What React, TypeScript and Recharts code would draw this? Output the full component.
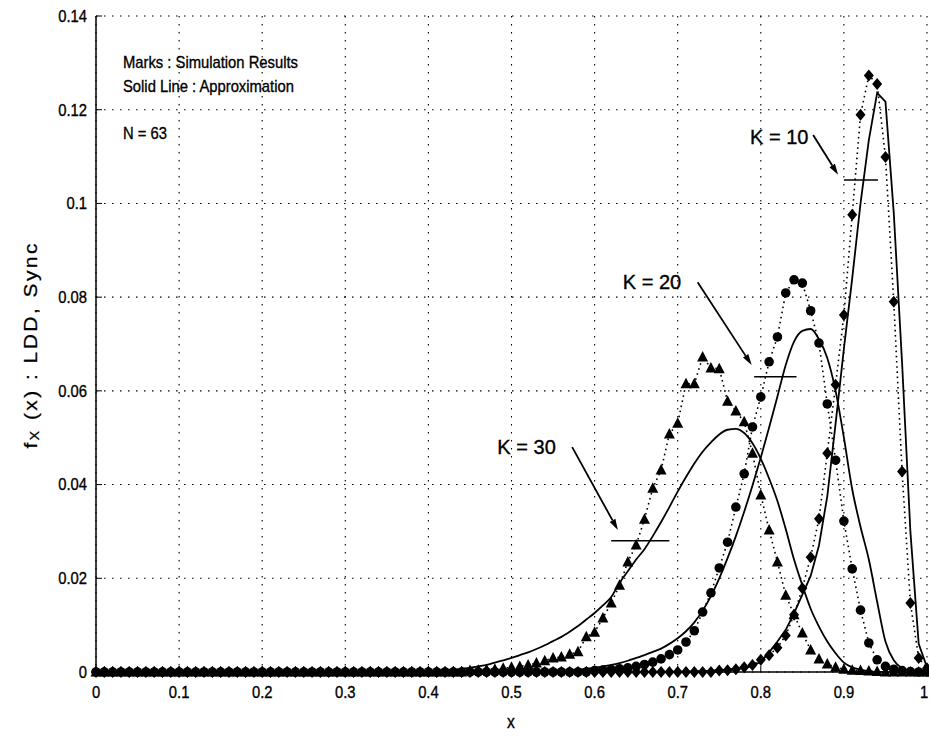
import React from "react";
import {
  ComposedChart,
  Line,
  XAxis,
  YAxis,
  CartesianGrid,
  ReferenceLine,
  ReferenceDot,
} from "recharts";

// x grid of the histogram bins (0.00 .. 1.00, step 0.01)
const X_TICKS = [0, 0.1, 0.2, 0.3, 0.4, 0.5, 0.6, 0.7, 0.8, 0.9, 1];
const Y_TICKS = [0, 0.02, 0.04, 0.06, 0.08, 0.1, 0.12, 0.14];

// simulation results (marks), one value per bin
const SIM_K30 = [
  0, 0, 0, 0, 0, 0, 0, 0, 0, 0,
  0, 0, 0, 0, 0, 0, 0, 0, 0, 0,
  0, 0, 0, 0, 0, 0, 0, 0, 0, 0,
  0, 0, 0, 0, 0, 0, 0, 0, 0, 0,
  0, 0, 0, 0, 0, 0.0003, 0.0004, 0.0005, 0.0006, 0.0008,
  0.001, 0.0012, 0.0015, 0.0019, 0.0024, 0.003, 0.0032, 0.0038, 0.0043, 0.0075,
  0.0085, 0.0115, 0.0147, 0.0185, 0.0235, 0.0271, 0.0326, 0.0392, 0.0431, 0.0508,
  0.0531, 0.0615, 0.0615, 0.0672, 0.0649, 0.0647, 0.0578, 0.0557, 0.0534, 0.0467,
  0.0378, 0.0303, 0.0235, 0.0164, 0.0122, 0.0083, 0.0047, 0.0028, 0.0017, 0.001,
  0.0006, 0.0004, 0.0003, 0.0002, 0.0001, 0, 0, 0, 0, 0,
  0,
];

const SIM_K20 = [
  0, 0, 0, 0, 0, 0, 0, 0, 0, 0,
  0, 0, 0, 0, 0, 0, 0, 0, 0, 0,
  0, 0, 0, 0, 0, 0, 0, 0, 0, 0,
  0, 0, 0, 0, 0, 0, 0, 0, 0, 0,
  0, 0, 0, 0, 0, 0, 0, 0, 0, 0,
  0, 0, 0, 0, 0, 0, 0, 0, 0, 0,
  0.0003, 0.0004, 0.0005, 0.0007, 0.0009, 0.0012, 0.0016, 0.0021, 0.0028, 0.0037,
  0.0047, 0.0064, 0.0088, 0.0128, 0.0169, 0.0222, 0.0277, 0.0352, 0.0423, 0.0523,
  0.0587, 0.0662, 0.0715, 0.0809, 0.0837, 0.083, 0.0771, 0.0702, 0.0572, 0.0452,
  0.0322, 0.022, 0.0132, 0.0062, 0.0026, 0.0012, 0.0006, 0.0003, 0.0001, 0,
  0,
];

const SIM_K10 = [
  0, 0, 0, 0, 0, 0, 0, 0, 0, 0,
  0, 0, 0, 0, 0, 0, 0, 0, 0, 0,
  0, 0, 0, 0, 0, 0, 0, 0, 0, 0,
  0, 0, 0, 0, 0, 0, 0, 0, 0, 0,
  0, 0, 0, 0, 0, 0, 0, 0, 0, 0,
  0, 0, 0, 0, 0, 0, 0, 0, 0, 0,
  0, 0, 0, 0, 0, 0, 0, 0, 0, 0,
  0, 0, 0, 0, 0, 0.0003, 0.0004, 0.0006, 0.001, 0.0015,
  0.0026, 0.0036, 0.0052, 0.0078, 0.0122, 0.0179, 0.0245, 0.0327, 0.0467, 0.0613,
  0.0762, 0.0976, 0.1189, 0.1273, 0.1255, 0.1099, 0.079, 0.0428, 0.0147, 0.003,
  0.0008,
];

// approximations (solid lines), same grid
const APPROX_K30 = [
  0, 0, 0, 0, 0, 0, 0, 0, 0, 0,
  0, 0, 0, 0, 0, 0, 0, 0, 0, 0,
  0, 0, 0, 0, 0, 0, 0, 0, 0, 0,
  0, 0, 0, 0, 0, 0, 0, 0, 0.0001, 0.0001,
  0.0002, 0.0003, 0.0004, 0.0005, 0.0007, 0.0009, 0.0012, 0.0015, 0.002, 0.0025,
  0.003, 0.0036, 0.0042, 0.0049, 0.0057, 0.0066, 0.0075, 0.0086, 0.0098, 0.0112,
  0.0126, 0.0142, 0.016, 0.019, 0.0215, 0.024, 0.0262, 0.029, 0.032, 0.0352,
  0.0385, 0.0416, 0.0445, 0.047, 0.049, 0.0507, 0.0517, 0.0519, 0.051, 0.0488,
  0.0455, 0.0413, 0.0365, 0.0305, 0.024, 0.0185, 0.0135, 0.0097, 0.0065, 0.004,
  0.002, 0.001, 0.0005, 0.0002, 0, 0, 0, 0, 0, 0,
  0,
];

const APPROX_K20 = [
  0, 0, 0, 0, 0, 0, 0, 0, 0, 0,
  0, 0, 0, 0, 0, 0, 0, 0, 0, 0,
  0, 0, 0, 0, 0, 0, 0, 0, 0, 0,
  0, 0, 0, 0, 0, 0, 0, 0, 0, 0,
  0, 0, 0, 0, 0, 0, 0, 0, 0, 0,
  0, 0, 0, 0, 0, 0.0002, 0.0003, 0.0004, 0.0005, 0.0007,
  0.0009, 0.0012, 0.0015, 0.0019, 0.0024, 0.003, 0.0036, 0.0043, 0.005, 0.006,
  0.0072, 0.0087, 0.0106, 0.0131, 0.0162, 0.02, 0.0243, 0.029, 0.0342, 0.0398,
  0.0458, 0.0522, 0.0588, 0.0655, 0.0705, 0.0728, 0.0732, 0.071, 0.067, 0.06,
  0.05, 0.039, 0.031, 0.024, 0.015, 0.0065, 0.0025, 0.0008, 0.0002, 0,
  0,
];

const APPROX_K10 = [
  0, 0, 0, 0, 0, 0, 0, 0, 0, 0,
  0, 0, 0, 0, 0, 0, 0, 0, 0, 0,
  0, 0, 0, 0, 0, 0, 0, 0, 0, 0,
  0, 0, 0, 0, 0, 0, 0, 0, 0, 0,
  0, 0, 0, 0, 0, 0, 0, 0, 0, 0,
  0, 0, 0, 0, 0, 0, 0, 0, 0, 0,
  0, 0, 0, 0, 0, 0, 0, 0, 0, 0,
  0.0001, 0.0001, 0.0002, 0.0002, 0.0003, 0.0004, 0.0005, 0.0007, 0.0009, 0.0013,
  0.0022, 0.0042, 0.0065, 0.009, 0.0125, 0.0165, 0.0205, 0.027, 0.0375, 0.053,
  0.069, 0.084, 0.1, 0.1135, 0.1236, 0.1217, 0.098, 0.066, 0.03, 0.006,
  0.001,
];

const data = SIM_K30.map((v, i) => ({
  x: i / 100,
  k30: v,
  k20: SIM_K20[i],
  k10: SIM_K10[i],
  a30: APPROX_K30[i],
  a20: APPROX_K20[i],
  a10: APPROX_K10[i],
}));

// annotation: level marks, arrows and labels (data coordinates)
const LEVELS = [
  { x1: 0.62, x2: 0.69, y: 0.028 },
  { x1: 0.792, x2: 0.843, y: 0.063 },
  { x1: 0.9, x2: 0.941, y: 0.105 },
];
const ARROWS = [
  { x1: 0.573, y1: 0.048, x2: 0.628, y2: 0.0303 },
  { x1: 0.724, y1: 0.0832, x2: 0.789, y2: 0.0655 },
  { x1: 0.863, y1: 0.1146, x2: 0.893, y2: 0.1061 },
];
const LABELS = [
  { text: "K = 30", x: 0.483, y: 0.048, size: 20, sq: 1 },
  { text: "K = 20", x: 0.634, y: 0.0832, size: 20, sq: 1 },
  { text: "K = 10", x: 0.787, y: 0.1142, size: 20, sq: 1 },
  { text: "Marks : Simulation Results", x: 0.0325, y: 0.1302, size: 17, sq: 0.87 },
  { text: "Solid Line : Approximation", x: 0.0325, y: 0.1251, size: 17, sq: 0.87 },
  { text: "N = 63", x: 0.0325, y: 0.115, size: 17, sq: 0.87 },
];

const FONT = "'Liberation Sans', Arial, Helvetica, sans-serif";

// the print is narrower than it is tall, so texts are squeezed sideways
const Narrow = ({ x, y, size, sq = 0.87, anchor = "start", children }: any) => (
  <g transform={`translate(${x},${y}) scale(${sq},1)`}>
    <text
      x={0}
      y={0}
      textAnchor={anchor}
      dominantBaseline="central"
      fontSize={size}
      fontFamily={FONT}
      fill="#000"
      stroke="#000"
      strokeWidth={0.35}
    >
      {children}
    </text>
  </g>
);

const XTick = ({ x, y, payload }: any) => {
  const v = payload.value;
  const dx = v === 1 ? -3 : 0;
  return (
    <Narrow x={x + dx} y={y + 9} size={17} anchor="middle">
      {String(v)}
    </Narrow>
  );
};

const YTick = ({ x, y, payload }: any) => (
  <Narrow x={x} y={y} size={17} anchor="end">
    {String(payload.value)}
  </Narrow>
);

const Triangle = ({ cx, cy }: any) => (
  <path d={`M${cx},${cy - 6}L${cx + 5.5},${cy + 4.5}L${cx - 5.5},${cy + 4.5}Z`} fill="#000" />
);
const Circle = ({ cx, cy }: any) => <circle cx={cx} cy={cy} r={4.8} fill="#000" />;
const Diamond = ({ cx, cy }: any) => (
  <path d={`M${cx},${cy - 6}L${cx + 5},${cy}L${cx},${cy + 6}L${cx - 5},${cy}Z`} fill="#000" />
);

const Arrow = (p: any) => {
  const { x1, y1, x2, y2 } = p;
  const ang = Math.atan2(y2 - y1, x2 - x1);
  const len = 11;
  const w = 3.2;
  const bx = x2 - len * Math.cos(ang);
  const by = y2 - len * Math.sin(ang);
  const nx = -Math.sin(ang) * w;
  const ny = Math.cos(ang) * w;
  return (
    <g>
      <line x1={x1} y1={y1} x2={bx} y2={by} stroke="#000" strokeWidth={1.8} />
      <path d={`M${x2},${y2}L${bx + nx},${by + ny}L${bx - nx},${by - ny}Z`} fill="#000" />
    </g>
  );
};

const YTitle = () => (
  <g transform="translate(30,346) rotate(-90) scale(1,0.9)">
    <text
      x={0}
      y={0}
      textAnchor="middle"
      dominantBaseline="central"
      fontSize={21}
      fontFamily={FONT}
      fill="#000"
      stroke="#000"
      strokeWidth={0.3}
      textLength={205}
      lengthAdjust="spacing"
    >
      f<tspan fontSize={14} dy={5}>X</tspan>
      <tspan dy={-5}> (x) : LDD, Sync</tspan>
    </text>
  </g>
);

const XTitle = () => (
  <Narrow x={511} y={722} size={18} anchor="middle">
    x
  </Narrow>
);

export default function App() {
  return (
    <div style={{ position: "absolute", left: 0, top: 0, fontFamily: FONT }}>
      <ComposedChart width={929} height={736} data={data} margin={{ top: 16, right: 2, bottom: 34, left: 36 }}>
        <CartesianGrid stroke="#000" strokeWidth={1.1} strokeDasharray="1.5 6.5" />
        <XAxis
          dataKey="x"
          type="number"
          domain={[0, 1]}
          ticks={X_TICKS}
          interval={0}
          height={30}
          tickSize={-6}
          tickMargin={17}
          tick={<XTick />}
          axisLine={{ stroke: "#000", strokeWidth: 1.5 }}
          tickLine={{ stroke: "#000" }}
          label={<XTitle />}
        />
        <XAxis
          xAxisId="top"
          orientation="top"
          dataKey="x"
          type="number"
          domain={[0, 1]}
          ticks={X_TICKS}
          interval={0}
          height={0}
          tickSize={-6}
          tick={false}
          axisLine={{ stroke: "#000", strokeWidth: 1.5 }}
          tickLine={{ stroke: "#000" }}
        />
        <YAxis
          type="number"
          domain={[0, 0.14]}
          ticks={Y_TICKS}
          interval={0}
          width={60}
          tickSize={-6}
          tickMargin={15}
          tick={<YTick />}
          axisLine={{ stroke: "#000", strokeWidth: 1.5 }}
          tickLine={{ stroke: "#000" }}
          label={<YTitle />}
        />
        <YAxis
          yAxisId="right"
          orientation="right"
          type="number"
          domain={[0, 0.14]}
          ticks={Y_TICKS}
          interval={0}
          width={0}
          tickSize={-6}
          tick={false}
          axisLine={{ stroke: "#000", strokeWidth: 1.5 }}
          tickLine={{ stroke: "#000" }}
        />

        <Line
          dataKey="a30"
          type="monotone"
          stroke="#000"
          strokeWidth={1.8}
          dot={false}
          activeDot={false}
          isAnimationActive={false}
        />
        <Line
          dataKey="a20"
          type="monotone"
          stroke="#000"
          strokeWidth={1.8}
          dot={false}
          activeDot={false}
          isAnimationActive={false}
        />
        <Line
          dataKey="a10"
          type="linear"
          stroke="#000"
          strokeWidth={1.8}
          dot={false}
          activeDot={false}
          isAnimationActive={false}
        />

        <Line
          dataKey="k30"
          type="linear"
          stroke="#000"
          strokeWidth={1.6}
          strokeDasharray="1.6 3.6"
          dot={(p: any) => <Triangle key={`t-${p.index}`} cx={p.cx} cy={p.cy} />}
          activeDot={false}
          isAnimationActive={false}
        />
        <Line
          dataKey="k20"
          type="linear"
          stroke="#000"
          strokeWidth={1.6}
          strokeDasharray="1.6 3.6"
          dot={(p: any) => <Circle key={`c-${p.index}`} cx={p.cx} cy={p.cy} />}
          activeDot={false}
          isAnimationActive={false}
        />
        <Line
          dataKey="k10"
          type="linear"
          stroke="#000"
          strokeWidth={1.6}
          strokeDasharray="1.6 3.6"
          dot={(p: any) => <Diamond key={`d-${p.index}`} cx={p.cx} cy={p.cy} />}
          activeDot={false}
          isAnimationActive={false}
        />

        {LEVELS.map((l, i) => (
          <ReferenceLine
            key={`lv-${i}`}
            segment={[
              { x: l.x1, y: l.y },
              { x: l.x2, y: l.y },
            ]}
            stroke="#000"
            strokeWidth={1.6}
          />
        ))}
        {ARROWS.map((a, i) => (
          <ReferenceLine
            key={`ar-${i}`}
            segment={[
              { x: a.x1, y: a.y1 },
              { x: a.x2, y: a.y2 },
            ]}
            shape={Arrow}
          />
        ))}
        {LABELS.map((l, i) => (
          <ReferenceDot
            key={`lb-${i}`}
            x={l.x}
            y={l.y}
            r={0}
            shape={(p: any) => (
              <Narrow x={p.cx} y={p.cy} size={l.size} sq={l.sq}>
                {l.text}
              </Narrow>
            )}
          />
        ))}
      </ComposedChart>
    </div>
  );
}
